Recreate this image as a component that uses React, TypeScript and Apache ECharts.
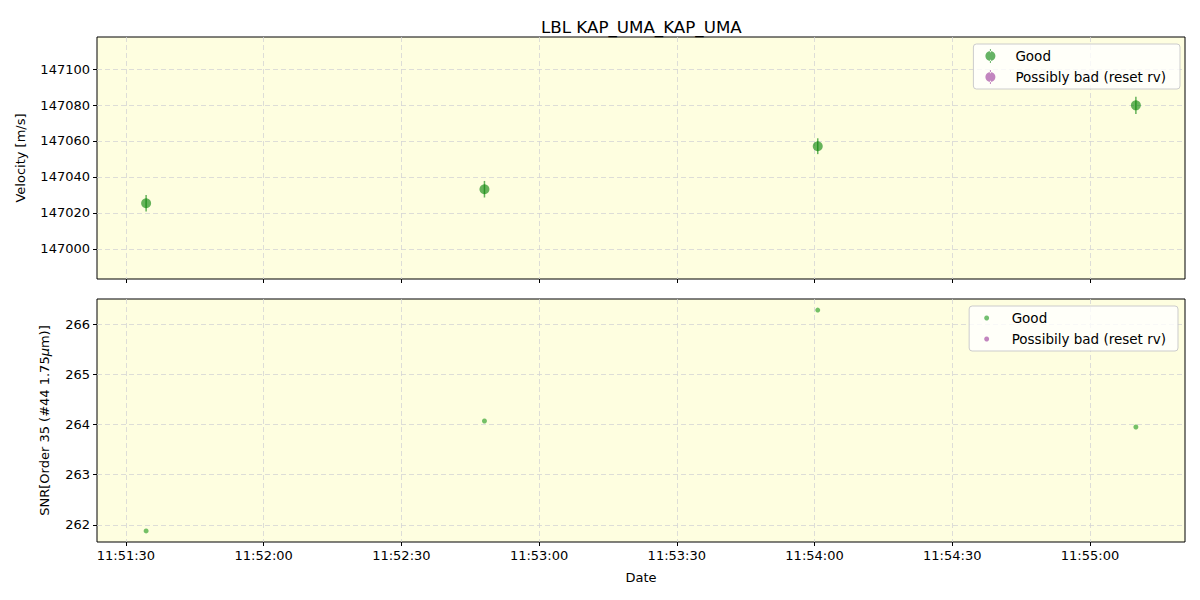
import React, { useEffect, useRef } from "react";
import * as echarts from "echarts";

const times = ["11:51:34.4", "11:52:48.1", "11:54:00.7", "11:55:10.0"];
const velocity = [147025.4, 147033.2, 147057.1, 147079.8];
const velocityErr = [4.6, 4.6, 4.4, 4.8];
const snr = [261.88, 264.07, 266.28, 263.95];
const xTickLabels = ["11:51:30", "11:52:00", "11:52:30", "11:53:00", "11:53:30", "11:54:00", "11:54:30", "11:55:00"];
const velocityTicks = [147000, 147020, 147040, 147060, 147080, 147100];
const snrTicks = [262, 263, 264, 265, 266];

const toSec = (t: string) => {
  const [h, m, s] = t.split(":");
  return Number(h) * 3600 + Number(m) * 60 + Number(s);
};
const pad = (n: number) => (n < 10 ? "0" : "") + n;
const fmt = (v: number) => {
  const r = Math.round(v);
  return `${pad(Math.floor(r / 3600))}:${pad(Math.floor((r % 3600) / 60))}:${pad(r % 60)}`;
};

const GREEN = "rgba(0,128,0,0.6)";
const GREEN2 = "rgba(0,140,0,0.68)";
const PURPLE = "rgba(128,0,128,0.6)";
const FONT = "DejaVu Sans";
const ERR_ICON = "path://M4.5,0h1v3.2h-1z M4.5,10.8h1v3.2h-1z M5,2a5,5 0 1,0 0.001,0z";

export default function App() {
  const ref = useRef<HTMLDivElement>(null);
  useEffect(() => {
    if (!ref.current) return;
    const chart = echarts.init(ref.current, null, { renderer: "svg" });
    const xs = times.map(toSec);
    const xTicks = xTickLabels.map(toSec);
    const xMin = toSec("11:51:23.7");
    const xMax = toSec("11:55:20.7");
    const splitLine = { show: true, lineStyle: { color: "#d4d4d4", type: [5, 3] as any, width: 0.8 } };
    const xAxisBase = (gridIndex: number, showLabel: boolean) => ({
      type: "value",
      gridIndex,
      min: xMin,
      max: xMax,
      axisLine: { show: false },
      axisTick: { show: true, customValues: xTicks, length: 4, lineStyle: { color: "#000" } },
      axisLabel: {
        show: showLabel,
        customValues: xTicks,
        formatter: (v: number) => fmt(v),
        color: "#000",
        fontFamily: FONT,
        fontSize: 13,
        margin: 7,
      },
      splitLine,
      name: showLabel ? "Date" : "",
      nameLocation: "middle",
      nameGap: 29,
      nameTextStyle: { color: "#000", fontFamily: FONT, fontSize: 13 },
    });
    const legendBase = {
      orient: "vertical",
      backgroundColor: "rgba(255,255,255,0.8)",
      borderColor: "#cccccc",
      borderWidth: 1,
      borderRadius: 3,
      itemWidth: 30,
      textStyle: { fontFamily: FONT, fontSize: 13.5, color: "#000", padding: [0, 0, 0, 5] },
    };
    const option: any = {
      animation: false,
      backgroundColor: "#fff",
      title: {
        text: "LBL KAP_UMA_KAP_UMA",
        left: 536,
        top: 13,
        textStyle: { fontFamily: FONT, fontSize: 16.7, fontWeight: "normal", color: "#000" },
      },
      grid: [
        { left: 97, top: 37, width: 1088, height: 242, show: true, backgroundColor: "#fefee0", borderColor: "#000", borderWidth: 1 },
        { left: 97, top: 299, width: 1088, height: 243, show: true, backgroundColor: "#fefee0", borderColor: "#000", borderWidth: 1 },
      ],
      xAxis: [xAxisBase(0, false), xAxisBase(1, true)],
      yAxis: [
        {
          type: "value",
          gridIndex: 0,
          min: 146983.3,
          max: 147117.8,
          axisLine: { show: false },
          axisTick: { show: true, customValues: velocityTicks, length: 4, lineStyle: { color: "#000" } },
          axisLabel: { customValues: velocityTicks, formatter: (v: number) => String(v), color: "#000", fontFamily: FONT, fontSize: 13, margin: 7 },
          splitLine,
          name: "Velocity [m/s]",
          nameLocation: "middle",
          nameGap: 70,
          nameTextStyle: { color: "#000", fontFamily: FONT, fontSize: 13 },
        },
        {
          type: "value",
          gridIndex: 1,
          min: 261.66,
          max: 266.5,
          axisLine: { show: false },
          axisTick: { show: true, customValues: snrTicks, length: 4, lineStyle: { color: "#000" } },
          axisLabel: { customValues: snrTicks, formatter: (v: number) => String(v), color: "#000", fontFamily: FONT, fontSize: 13, margin: 7 },
          splitLine,
          name: "SNR[Order 35 (#44 1.75{i|μ}m)]",
          nameLocation: "middle",
          nameGap: 46,
          nameTextStyle: {
            color: "#000",
            fontFamily: FONT,
            fontSize: 13,
            rich: { i: { fontStyle: "italic", fontFamily: FONT, fontSize: 13, color: "#000" } },
          },
        },
      ],
      legend: [
        {
          ...legendBase,
          data: [
            { name: "Good", icon: ERR_ICON, itemStyle: { color: GREEN } },
            { name: "Possibly bad (reset rv)", icon: ERR_ICON, itemStyle: { color: PURPLE } },
          ],
          right: 20,
          top: 44,
          itemHeight: 14,
          itemGap: 7,
          padding: [5, 14, 5, 12],
        },
        {
          ...legendBase,
          data: [
            { name: "Good ", icon: "circle", itemStyle: { color: GREEN2 } },
            { name: "Possibily bad (reset rv)", icon: "circle", itemStyle: { color: PURPLE } },
          ],
          right: 22,
          top: 306,
          itemHeight: 5,
          itemGap: 7,
          padding: [5, 12, 5, 15],
        },
      ],
      series: [
        {
          name: "Good",
          type: "custom",
          xAxisIndex: 0,
          yAxisIndex: 0,
          data: xs.map((x, i) => [x, velocity[i], velocityErr[i]]),
          renderItem: (params: any, api: any) => {
            const x = api.value(0);
            const y = api.value(1);
            const e = api.value(2);
            const c = api.coord([x, y]);
            const top = api.coord([x, y + e]);
            const bot = api.coord([x, y - e]);
            return {
              type: "group",
              children: [
                { type: "line", shape: { x1: c[0], y1: top[1], x2: c[0], y2: bot[1] }, style: { stroke: GREEN, lineWidth: 1.5 } },
                { type: "circle", shape: { cx: c[0], cy: c[1], r: 5 }, style: { fill: GREEN } },
              ],
            };
          },
          itemStyle: { color: GREEN },
        },
        {
          name: "Possibly bad (reset rv)",
          type: "scatter",
          xAxisIndex: 0,
          yAxisIndex: 0,
          data: [],
          itemStyle: { color: PURPLE },
        },
        {
          name: "Good ",
          type: "scatter",
          xAxisIndex: 1,
          yAxisIndex: 1,
          symbolSize: 5,
          data: xs.map((x, i) => [x, snr[i]]),
          itemStyle: { color: GREEN2 },
        },
        {
          name: "Possibily bad (reset rv)",
          type: "scatter",
          xAxisIndex: 1,
          yAxisIndex: 1,
          data: [],
          itemStyle: { color: PURPLE },
        },
      ],
    };
    chart.setOption(option);
    return () => chart.dispose();
  }, []);
  return <div ref={ref} style={{ width: 1200, height: 600, margin: -8 }} />;
}
